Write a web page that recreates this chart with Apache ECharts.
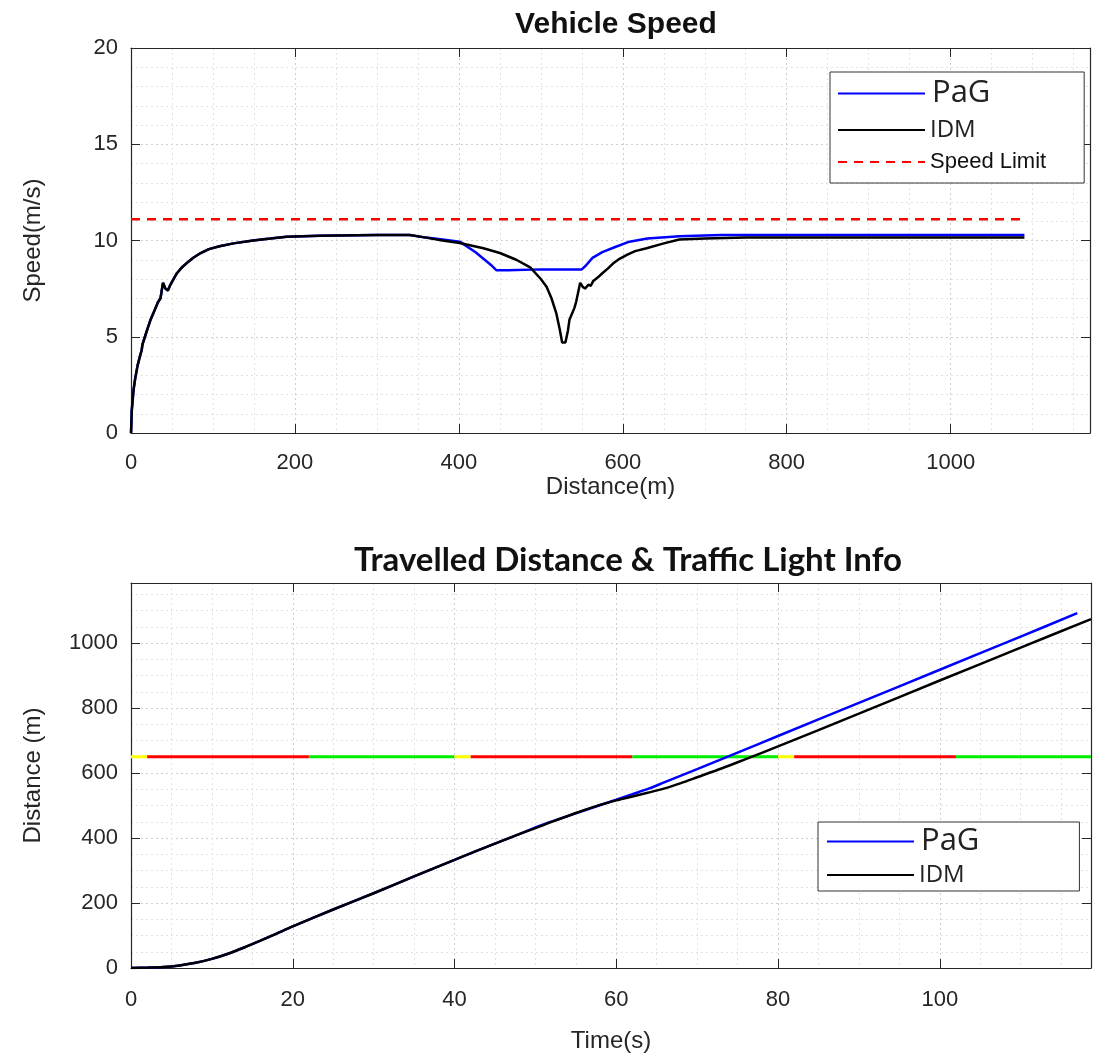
<!DOCTYPE html>
<html><head><meta charset="utf-8">
<script src="https://cdn.jsdelivr.net/npm/echarts@6/dist/echarts.min.js"></script>
<style>html,body{margin:0;padding:0;background:#fff}#c{width:1094px;height:1062px}</style>
</head><body><div id="c"></div>
<script>
// ---------- DATA ----------
const speedTitle = 'Vehicle Speed';
const distTitle = 'Travelled Distance & Traffic Light Info';
const speedLimit = 11.11;
const speedLimitRange = [0, 1090];
// common start (both vehicles): [distance m, speed m/s]
const accelStart = [[0,0],[1,1.2],[3,2.2],[5,2.8],[8,3.5],[11,4.0],[13,4.3],[14,4.6],[17,5.0],[19,5.1],[20,5.4],[24,5.9],[26,6.0],[27,6.2],[30,6.5],[32,6.6],[33,6.8],[36,7.0],[39,7.8],[42,7.5],[45,7.4],[48,7.7],[52,8.0],[56,8.3],[62,8.6],[70,8.9],[76,9.1],[85,9.35],[95,9.55],[108,9.7],[125,9.85],[149,10.0],[170,10.1],[190,10.2],[230,10.25],[300,10.28],[340,10.28]];
const pagSpeedRest = [[360,10.15],[380,10.05],[401,9.94],[420,9.4],[440,8.7],[446,8.45],[460,8.45],[500,8.5],[550,8.5],[555,8.7],[563,9.1],[575,9.4],[590,9.65],[608,9.94],[630,10.1],[669,10.22],[720,10.28],[1090,10.28]];
const idmSpeedRest = [[360,10.15],[380,10.0],[401,9.87],[430,9.6],[450,9.35],[470,9.0],[487,8.6],[500,8.0],[507,7.6],[513,7.0],[519,6.2],[523,5.4],[526,4.7],[530,4.7],[533,5.3],[535,5.9],[537,5.8],[538,6.2],[541,6.5],[542,6.4],[543,6.8],[545,7.2],[548,7.8],[551,7.6],[554,7.5],[558,7.7],[561,7.65],[564,7.9],[570,8.1],[572,8.05],[575,8.3],[582,8.55],[584,8.5],[588,8.8],[596,9.05],[598,9.0],[605,9.25],[615,9.45],[629,9.6],[650,9.85],[669,10.05],[700,10.1],[750,10.15],[800,10.15],[1090,10.15]];
// [time s, distance m]
const pagDist = [[0,0],[2,1],[4,3],[6,8],[8,16],[10,28],[12,44],[14,63],[16,84],[18,106],[20,128],[25,180],[30,230],[35,282],[40,333],[45,383],[48,412],[51,442],[55,476],[60,518],[62,535],[64,552],[66,572],[70,612],[75,663],[80,714],[90,816],[100,918],[110,1020],[117,1092]];
const idmDist = [[0,0],[2,1],[4,3],[6,8],[8,16],[10,28],[12,44],[14,63],[16,84],[18,106],[20,128],[25,180],[30,230],[35,282],[40,333],[45,383],[48,412],[51,440],[55,477],[58,502],[60,516],[62,528],[64,540],[66,553],[68,569],[70,587],[73,614],[76,643],[80,682],[90,783],[100,885],[110,986],[118.7,1074]];
// traffic light at 650 m: [start s, end s, state]
const lightLevel = 650;
const lightPhases = [[0,2,'Y'],[2,22,'R'],[22,40,'G'],[40,42,'Y'],[42,62,'R'],[62,80,'G'],[80,82,'Y'],[82,102,'R'],[102,118.7,'G']];
const lightColors = {R:'#ff0000', G:'#00ee00', Y:'#ffff00'};

// ---------- CHART ----------
const axisCol = '#262626';
const font = '"Liberation Sans", Arial, sans-serif';
const gridDot = {show:true, lineStyle:{color:'#cfcfcf', type:[2,3], width:1}};
const minorDot = {show:true, lineStyle:{color:'#e2e2e2', type:[2,3], width:1}};
function mainAxis(extra){
  return Object.assign({
    type:'value', axisLine:{show:true, onZero:false, lineStyle:{color:axisCol, width:1.2}},
    axisTick:{show:true, inside:true, length:9, lineStyle:{color:axisCol}},
    axisLabel:{color:axisCol, fontSize:22, fontFamily:font},
    splitLine:gridDot, minorSplitLine:minorDot, minorTick:{show:false, splitNumber:4},
    nameTextStyle:{color:axisCol, fontSize:24, fontFamily:font}, nameLocation:'middle'
  }, extra);
}
function boxAxis(extra){
  return Object.assign({
    type:'value', axisLine:{show:true, onZero:false, lineStyle:{color:axisCol, width:1.2}},
    axisTick:{show:true, inside:true, length:9, lineStyle:{color:axisCol}},
    axisLabel:{show:false}, splitLine:{show:false}
  }, extra);
}
const series = [
  {name:'PaG', type:'line', xAxisIndex:0, yAxisIndex:0, data:accelStart.concat(pagSpeedRest), showSymbol:false, symbol:'none', lineStyle:{color:'#0000ff', width:2.5}, itemStyle:{color:'#0000ff'}, z:3},
  {name:'IDM', type:'line', xAxisIndex:0, yAxisIndex:0, data:accelStart.concat(idmSpeedRest), showSymbol:false, symbol:'none', lineStyle:{color:'#000000', width:2.5}, itemStyle:{color:'#000000'}, z:4},
  {name:'Speed Limit', type:'line', xAxisIndex:0, yAxisIndex:0, data:[[speedLimitRange[0],speedLimit],[speedLimitRange[1],speedLimit]], showSymbol:false, symbol:'none', lineStyle:{color:'#ff0000', width:2.5, type:[9,7]}, itemStyle:{color:'#ff0000'}, z:3}
];
lightPhases.forEach((p,i)=>{
  series.push({name:'light'+i, type:'line', xAxisIndex:2, yAxisIndex:2, data:[[p[0],lightLevel],[p[1],lightLevel]], showSymbol:false, symbol:'none', lineStyle:{color:lightColors[p[2]], width:3}, z:2, silent:true});
});
series.push({name:'PaG ', type:'line', xAxisIndex:2, yAxisIndex:2, data:pagDist, showSymbol:false, symbol:'none', smooth:0.3, lineStyle:{color:'#0000ff', width:2.5}, itemStyle:{color:'#0000ff'}, z:3});
series.push({name:'IDM ', type:'line', xAxisIndex:2, yAxisIndex:2, data:idmDist, showSymbol:false, symbol:'none', smooth:0.3, lineStyle:{color:'#000000', width:2.5}, itemStyle:{color:'#000000'}, z:4});

const legendRich = {
  p:{fontSize:31, fontFamily:'"Open Sans", sans-serif', color:'#222', padding:[0,0,0,2]},
  i:{fontSize:24, fontFamily:'"Open Sans", sans-serif', color:'#222'},
  s:{fontSize:22, fontFamily:font, color:'#111'}
};
function legFmt(n){ const t=n.trim(); return t==='PaG'?'{p|PaG}':(t==='IDM'?'{i|IDM}':'{s|Speed Limit}'); }

const chart = echarts.init(document.getElementById('c'), null, {renderer:'canvas'});
chart.setOption({
  animation:false, backgroundColor:'#fff',
  title:[
    {text:speedTitle, left:611, top:5, textAlign:'center', textStyle:{fontSize:30, fontWeight:'bold', fontFamily:'"Liberation Sans Narrow","Liberation Sans",sans-serif', color:'#111'}},
    {text:distTitle, left:623, top:539, textAlign:'center', textStyle:{fontSize:33, fontWeight:'bold', fontFamily:'Lato, "Open Sans", sans-serif', color:'#111'}}
  ],
  grid:[
    {left:131, top:48, width:959, height:385},
    {left:131, top:583, width:963, height:385}
  ],
  xAxis:[
    mainAxis({gridIndex:0, min:0, max:1170, interval:200, name:'Distance(m)', nameGap:42, axisLabel:{color:axisCol, fontSize:22, fontFamily:font, margin:19, formatter:v=>v%200===0?v:''}}),
    boxAxis({gridIndex:0, position:'top', min:0, max:1170, interval:200}),
    mainAxis({gridIndex:1, min:0, max:118.7, interval:20, name:'Time(s)', nameGap:61, axisLabel:{color:axisCol, fontSize:22, fontFamily:font, margin:21, formatter:v=>v%20===0?v:''}}),
    boxAxis({gridIndex:1, position:'top', min:0, max:118.7, interval:20})
  ],
  yAxis:[
    mainAxis({gridIndex:0, min:0, max:20, interval:5, name:'Speed(m/s)', nameGap:86, minorTick:{show:false, splitNumber:5}, axisLabel:{color:axisCol, fontSize:22, fontFamily:font, margin:13}}),
    boxAxis({gridIndex:0, position:'right', min:0, max:20, interval:5}),
    mainAxis({gridIndex:1, min:0, max:1185, interval:200, name:'Distance (m)', nameGap:86, axisLabel:{color:axisCol, fontSize:22, fontFamily:font, margin:13, formatter:v=>v%200===0?v:''}}),
    boxAxis({gridIndex:1, position:'right', min:0, max:1185, interval:200})
  ],
  legend:[
    {data:['PaG','IDM','Speed Limit'], orient:'vertical', left:830, top:72, itemWidth:87, itemHeight:14, itemGap:9, padding:[6,38,10,7],
     itemStyle:{opacity:0},
     borderColor:'#333', borderWidth:1, backgroundColor:'#fff', formatter:legFmt, textStyle:{rich:legendRich}, selectedMode:false},
    {data:['PaG ','IDM '], orient:'vertical', left:818, top:822, itemWidth:87, itemHeight:14, itemGap:6, padding:[4,100,4,8],
     itemStyle:{opacity:0},
     borderColor:'#333', borderWidth:1, backgroundColor:'#fff', formatter:legFmt, textStyle:{rich:legendRich}, selectedMode:false}
  ],
  series:series
});
</script></body></html>
